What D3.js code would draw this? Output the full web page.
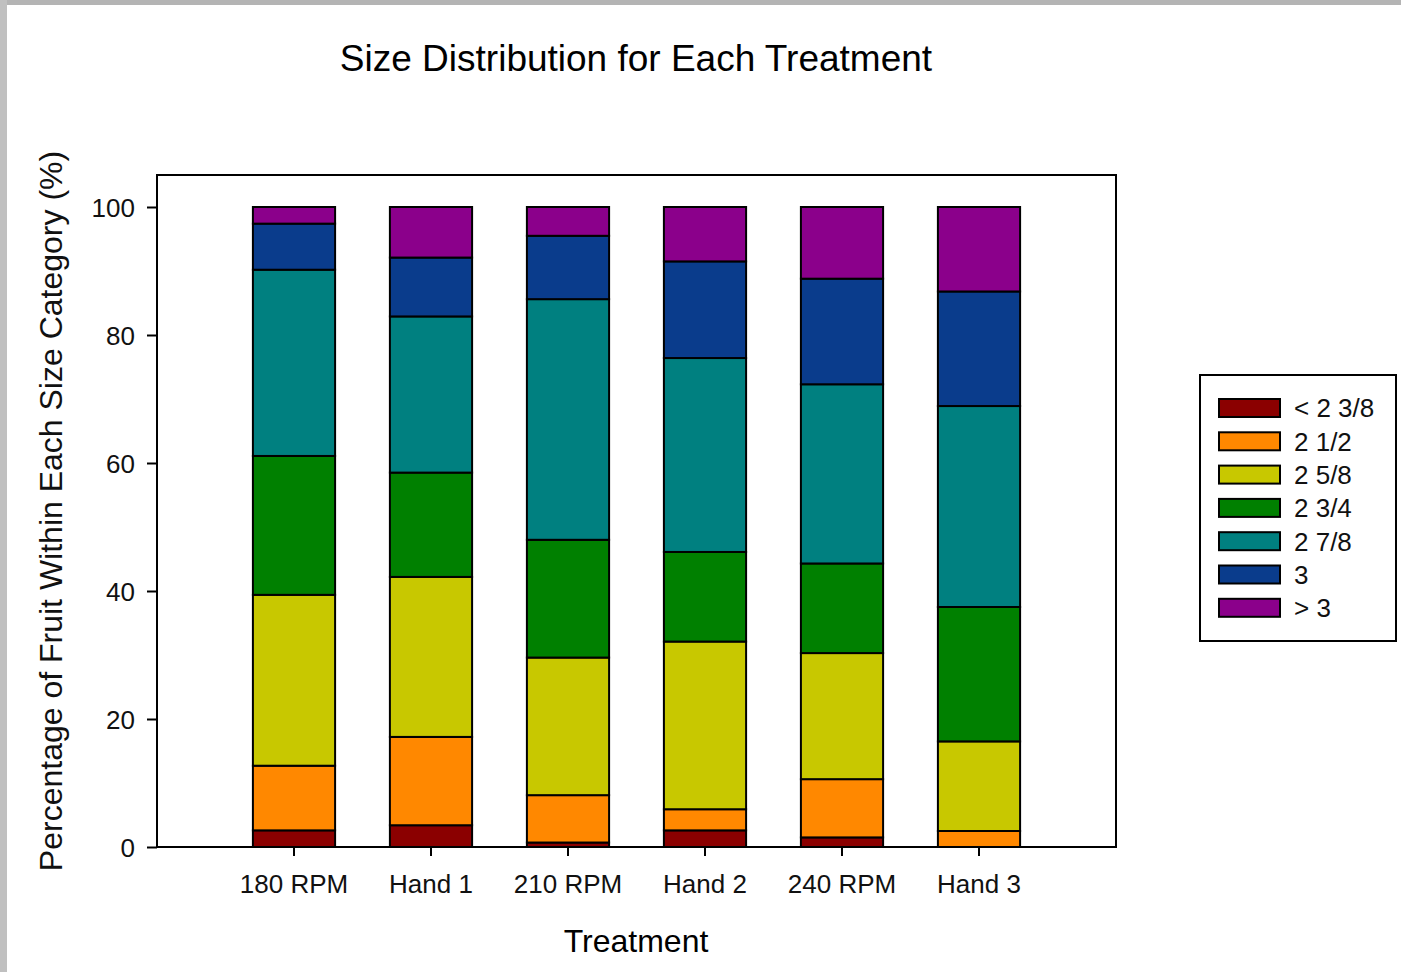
<!DOCTYPE html>
<html>
<head>
<meta charset="utf-8">
<script src="https://cdn.jsdelivr.net/npm/d3@7"></script>
<style>
  body { margin: 0; background: #fff; }
  svg { display: block; font-family: "Liberation Sans", Arial, sans-serif; }
</style>
</head>
<body>
<div id="chart"></div>
<script>
// treatments along the x axis
const treatments = ["180 RPM", "Hand 1", "210 RPM", "Hand 2", "240 RPM", "Hand 3"];
// size categories, bottom to top
const sizes = ["< 2 3/8", "2 1/2", "2 5/8", "2 3/4", "2 7/8", "3", "> 3"];
const sizeColors = ["#8b0000", "#ff8800", "#c8c800", "#008000", "#008080", "#0a3c8c", "#8b008b"];
// percentage of fruit in each size, one array per size category (same order as treatments)
const lt238 = [2.6, 3.4, 0.7, 2.6, 1.5, 0.0];
const s212 = [10.1, 13.8, 7.4, 3.3, 9.1, 2.5];
const s258 = [26.7, 25.0, 21.5, 26.2, 19.7, 14.0];
const s234 = [21.7, 16.3, 18.4, 14.0, 14.0, 21.0];
const s278 = [29.1, 24.4, 37.6, 30.3, 28.0, 31.4];
const s3 = [7.2, 9.2, 9.9, 15.1, 16.5, 17.9];
const gt3 = [2.6, 7.9, 4.5, 8.5, 11.2, 13.2];
const yTicks = [0, 20, 40, 60, 80, 100];

const seriesValues = [lt238, s212, s258, s234, s278, s3, gt3];
const rows = treatments.map((t, i) => {
  const r = { treatment: t };
  sizes.forEach((s, j) => { r[s] = seriesValues[j][i]; });
  return r;
});

const W = 1401, H = 972;
const plot = { left: 157, right: 1116, top: 175, bottom: 847 };

const svg = d3.select("#chart").append("svg")
  .attr("width", W).attr("height", H);

// grey frame of the screenshot
svg.append("rect").attr("x", 0).attr("y", 0).attr("width", W).attr("height", 5).attr("fill", "#b4b4b4");
svg.append("rect").attr("x", 0).attr("y", 0).attr("width", 7).attr("height", H).attr("fill", "#c0c0c0");

const x = d3.scaleBand()
  .domain(treatments)
  .range([plot.left, plot.right])
  .paddingInner(0.4)
  .paddingOuter(0.7);

const y = d3.scaleLinear()
  .domain([0, 100])
  .range([plot.bottom, plot.bottom - 640]);

const stack = d3.stack().keys(sizes);
const stacked = stack(rows);

// bars
svg.append("g").selectAll("g")
  .data(stacked)
  .join("g")
  .attr("fill", (d, i) => sizeColors[i])
  .selectAll("rect")
  .data(d => d.filter(v => v[1] - v[0] > 0))
  .join("rect")
  .attr("x", d => x(d.data.treatment))
  .attr("width", x.bandwidth())
  .attr("y", d => y(d[1]))
  .attr("height", d => y(d[0]) - y(d[1]))
  .attr("stroke", "#000")
  .attr("stroke-width", 2);

// frame
svg.append("rect")
  .attr("x", plot.left).attr("y", plot.top)
  .attr("width", plot.right - plot.left).attr("height", plot.bottom - plot.top)
  .attr("fill", "none").attr("stroke", "#000").attr("stroke-width", 2);

// axes
const yAxis = svg.append("g")
  .attr("transform", `translate(${plot.left},0)`)
  .call(d3.axisLeft(y).tickValues(yTicks).tickSize(10).tickPadding(12));
const xAxis = svg.append("g")
  .attr("transform", `translate(0,${plot.bottom})`)
  .call(d3.axisBottom(x).tickSize(9).tickPadding(17));

[yAxis, xAxis].forEach(a => {
  a.select(".domain").remove();
  a.selectAll("line").attr("stroke", "#000").attr("stroke-width", 2);
  a.selectAll("text").attr("fill", "#111").style("font-size", "26px")
    .style("font-family", "'Liberation Sans', Arial, sans-serif");
});
yAxis.selectAll("text").attr("dy", "0.35em");
xAxis.selectAll("text").attr("dy", "0.75em");

// titles
svg.append("text")
  .attr("x", 636).attr("y", 71)
  .attr("text-anchor", "middle")
  .style("font-size", "37px")
  .attr("fill", "#000")
  .text("Size Distribution for Each Treatment");

svg.append("text")
  .attr("x", 636).attr("y", 952)
  .attr("text-anchor", "middle")
  .style("font-size", "32px")
  .attr("fill", "#000")
  .text("Treatment");

svg.append("text")
  .attr("transform", "translate(62,511) rotate(-90)")
  .attr("text-anchor", "middle")
  .style("font-size", "32px")
  .attr("fill", "#111")
  .text("Percentage of Fruit Within Each Size Category (%)");

// legend
const legend = svg.append("g");
legend.append("rect")
  .attr("x", 1200).attr("y", 375).attr("width", 196).attr("height", 266)
  .attr("fill", "#fff").attr("stroke", "#000").attr("stroke-width", 2);

const item = legend.selectAll("g.item")
  .data(sizes)
  .join("g")
  .attr("class", "item")
  .attr("transform", (d, i) => `translate(1219,${408 + i * 33.3})`);
item.append("rect")
  .attr("x", 0).attr("y", -9).attr("width", 61).attr("height", 18)
  .attr("fill", (d, i) => sizeColors[i])
  .attr("stroke", "#000").attr("stroke-width", 2);
item.append("text")
  .attr("x", 75).attr("y", 0).attr("dy", "0.36em")
  .style("font-size", "26px")
  .attr("fill", "#111")
  .text(d => d);
</script>
</body>
</html>
